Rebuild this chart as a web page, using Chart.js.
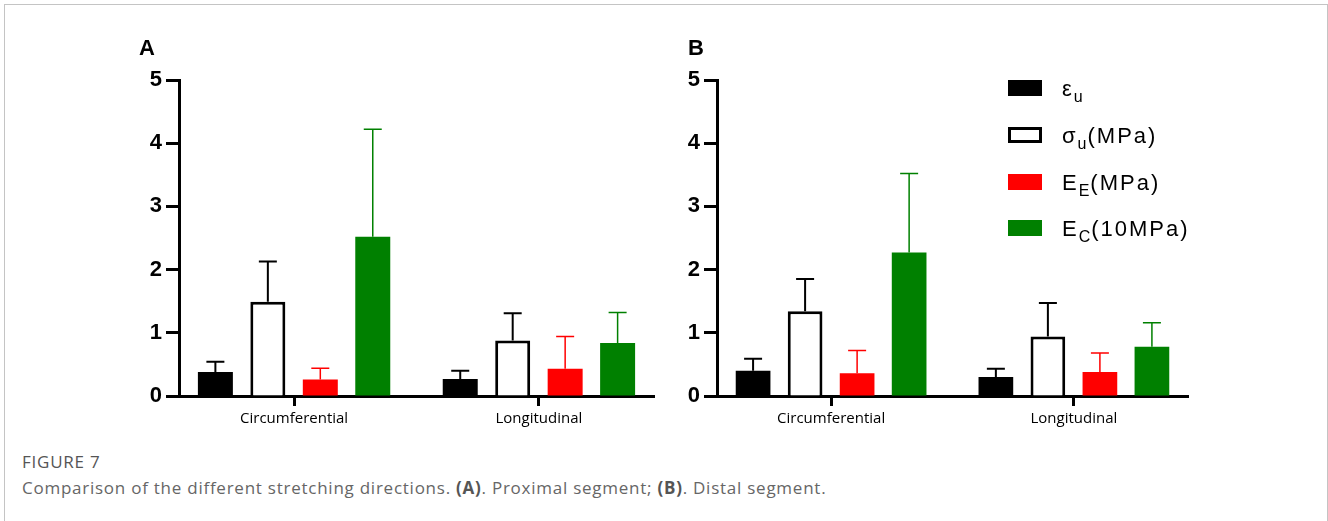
<!DOCTYPE html>
<html>
<head>
<meta charset="utf-8">
<script src="https://cdn.jsdelivr.net/npm/chart.js@4.4.1/dist/chart.umd.min.js"></script>
<style>
  html, body { margin:0; padding:0; background:#fff; }
  body { width:1328px; height:521px; position:relative; overflow:hidden; font-family:"Liberation Sans", Arial, sans-serif; }
  .frame { position:absolute; left:4px; top:4px; width:1322px; height:560px; border:1px solid #c4c4c4; border-bottom:none; }
  .pane { position:absolute; top:0; }
  .tag { position:absolute; top:37px; font:bold 22px "Liberation Sans", Arial, sans-serif; color:#000; line-height:22px; }
  .lg-row { position:absolute; left:1008px; height:16px; }
  .lg-box { position:absolute; left:0; top:0; width:34px; height:16px; box-sizing:border-box; }
  .lg-txt { position:absolute; left:54px; top:-2px; white-space:nowrap; font-size:22px; line-height:21px; letter-spacing:2px; color:#000; }
  .lg-txt sub { font-size:16px; vertical-align:-6px; line-height:0; letter-spacing:1px; }
  .cap-head { position:absolute; left:22px; top:450px; font:17px "Open Sans", sans-serif; letter-spacing:0.75px; color:#555; }
  .cap-text { position:absolute; left:22px; top:476px; font:17px "Open Sans", sans-serif; letter-spacing:0.75px; color:#666; white-space:nowrap; }
  .cap-text b { font-weight:700; color:#555; }
</style>
</head>
<body>
<div class="frame"></div>
<canvas id="chartA" class="pane" style="left:0" width="664" height="440"></canvas>
<canvas id="chartB" class="pane" style="left:664px" width="664" height="440"></canvas>
<div class="tag" style="left:139px">A</div>
<div class="tag" style="left:688px">B</div>
<div id="legend"></div>
<div class="cap-head">FIGURE 7</div>
<div class="cap-text">Comparison of the different stretching directions. <b>(A)</b>. Proximal segment; <b>(B)</b>. Distal segment.</div>

<script>
// categories on the x axis
const CATEGORIES = ['Circumferential', 'Longitudinal'];

// legend names: symbol, subscript, unit
const SERIES_SYMBOL = ['ε', 'σ', 'E', 'E'];
const SERIES_SUB    = ['u', 'u', 'E', 'C'];
const SERIES_UNIT   = ['', '(MPa)', '(MPa)', '(10MPa)'];

// y ticks 0..5
const Y_TICKS = [0, 1, 2, 3, 4, 5];

// (A) proximal segment — means and SD (error bar drawn upward only)
const PROX_STRAIN    = [0.38, 0.27];
const PROX_STRAIN_SD = [0.16, 0.13];
const PROX_STRESS    = [1.49, 0.88];
const PROX_STRESS_SD = [0.64, 0.43];
const PROX_EE        = [0.26, 0.43];
const PROX_EE_SD     = [0.18, 0.51];
const PROX_EC        = [2.52, 0.84];
const PROX_EC_SD     = [1.70, 0.48];

// (B) distal segment
const DIST_STRAIN    = [0.40, 0.30];
const DIST_STRAIN_SD = [0.19, 0.13];
const DIST_STRESS    = [1.34, 0.94];
const DIST_STRESS_SD = [0.51, 0.53];
const DIST_EE        = [0.36, 0.38];
const DIST_EE_SD     = [0.36, 0.30];
const DIST_EC        = [2.27, 0.78];
const DIST_EC_SD     = [1.25, 0.38];

// look
const FILL    = ['#000000', '#ffffff', '#ff0000', '#008000'];
const EDGE    = ['#000000', '#000000', '#ff0000', '#008000'];
const EDGE_W  = [0, 3, 0, 0];
const ERR_COL = ['#000000', '#000000', '#ff0000', '#008000'];
const ERR_W   = [2, 2, 1.5, 1.5];
const CAP = 9;

// upward-only error bars, placed through the chart's own scales
const errorBars = {
  id: 'errorBars',
  afterDatasetsDraw(chart) {
    const ctx = chart.ctx, ys = chart.scales.y;
    chart.data.datasets.forEach((ds, k) => {
      chart.getDatasetMeta(k).data.forEach((bar, i) => {
        const top = ys.getPixelForValue(ds.data[i].y + ds.sd[i]);
        ctx.save();
        ctx.strokeStyle = ERR_COL[k];
        ctx.lineWidth = ERR_W[k];
        ctx.beginPath();
        ctx.moveTo(bar.x, bar.y); ctx.lineTo(bar.x, top);
        ctx.moveTo(bar.x - CAP, top); ctx.lineTo(bar.x + CAP, top);
        ctx.stroke();
        ctx.restore();
      });
    });
  }
};

function makeChart(id, means, sds, yAxisW, padRight) {
  const datasets = means.map((m, k) => ({
    label: SERIES_SYMBOL[k] + SERIES_SUB[k] + SERIES_UNIT[k],
    data: m.map((v, i) => ({ x: i, y: v })),
    sd: sds[k],
    backgroundColor: FILL[k],
    borderColor: EDGE[k],
    borderWidth: EDGE_W[k],
    categoryPercentage: 0.857,
    barPercentage: 0.667,
  }));
  return new Chart(document.getElementById(id), {
    type: 'bar',
    data: { datasets },
    plugins: [errorBars],
    options: {
      responsive: false, animation: false, devicePixelRatio: 1,
      layout: { padding: { top: 80, right: padRight, left: 0, bottom: 0 } },
      plugins: { legend: { display: false }, tooltip: { enabled: false } },
      scales: {
        x: {
          type: 'linear', min: -0.47, max: 1.47, offset: false,
          afterBuildTicks: s => { s.ticks = CATEGORIES.map((_, i) => ({ value: i })); },
          afterFit: s => { s.height = 44; },
          grid: { offset: false, drawOnChartArea: false, drawTicks: true, tickLength: 10, tickWidth: 3, tickColor: '#000' },
          border: { display: true, color: '#000', width: 3 },
          ticks: { callback: v => CATEGORIES[v] ?? '', color: '#000', autoSkip: false, maxRotation: 0,
                   font: { family: '"Open Sans", sans-serif', size: 15 }, padding: 4 },
        },
        y: {
          min: 0, max: 5,
          afterBuildTicks: s => { s.ticks = Y_TICKS.map(v => ({ value: v })); },
          afterFit: s => { s.width = yAxisW; },
          grid: { drawOnChartArea: false, drawTicks: true, tickLength: 13, tickWidth: 3, tickColor: '#000' },
          border: { display: true, color: '#000', width: 3 },
          ticks: { color: '#000', padding: 4, font: { family: '"Liberation Sans", Arial, sans-serif', size: 22, weight: 'bold' } },
        },
      },
    },
  });
}

makeChart('chartA',
  [PROX_STRAIN, PROX_STRESS, PROX_EE, PROX_EC],
  [PROX_STRAIN_SD, PROX_STRESS_SD, PROX_EE_SD, PROX_EC_SD], 179, 10);
makeChart('chartB',
  [DIST_STRAIN, DIST_STRESS, DIST_EE, DIST_EC],
  [DIST_STRAIN_SD, DIST_STRESS_SD, DIST_EE_SD, DIST_EC_SD], 53, 140);

// legend with real subscripts
const lg = document.getElementById('legend');
SERIES_SYMBOL.forEach((s, k) => {
  const row = document.createElement('div');
  row.className = 'lg-row';
  row.style.top = (80 + k * 46.8) + 'px';
  const box = document.createElement('div');
  box.className = 'lg-box';
  box.style.background = FILL[k];
  if (EDGE_W[k]) box.style.border = EDGE_W[k] + 'px solid ' + EDGE[k];
  const txt = document.createElement('div');
  txt.className = 'lg-txt';
  txt.innerHTML = s + '<sub>' + SERIES_SUB[k] + '</sub>' + SERIES_UNIT[k];
  row.appendChild(box); row.appendChild(txt);
  lg.appendChild(row);
});
</script>
</body>
</html>
